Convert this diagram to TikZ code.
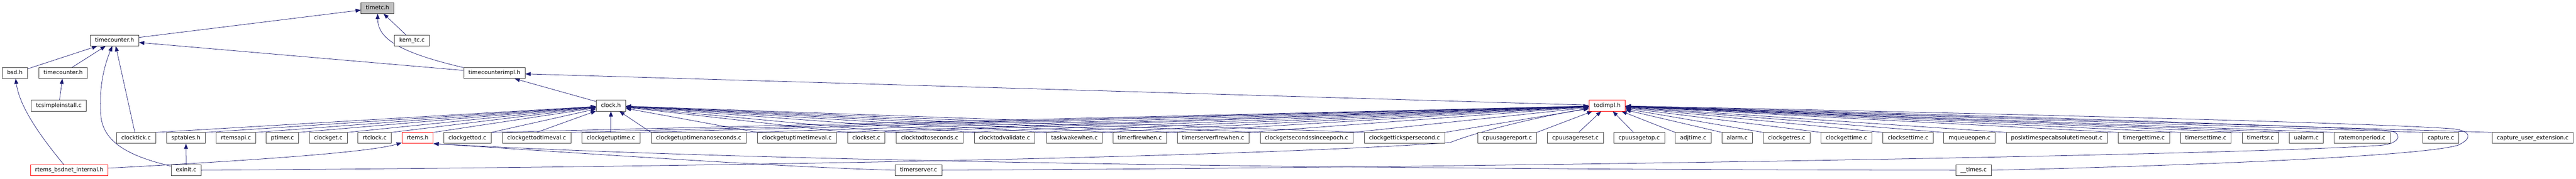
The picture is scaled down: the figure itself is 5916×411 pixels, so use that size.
\documentclass[tikz,border=0pt]{standalone}
\usepackage{fontspec}
\setmainfont{DejaVu Sans}
\usetikzlibrary{arrows.meta,backgrounds}
\definecolor{edgeblue}{HTML}{191970}
\definecolor{boxgrey}{HTML}{404040}

\begin{document}
\begin{tikzpicture}[x=1pt,y=-1pt,font=\fontsize{12.9}{15}\selectfont]
  \tikzstyle{filebox}=[rectangle,draw=boxgrey,line width=1pt,fill=white,minimum height=25pt,inner xsep=11pt,inner ysep=0pt,text height=9.5pt,text depth=2.7pt]
  \tikzstyle{rootbox}=[filebox,fill=black!25]
  \tikzstyle{truncbox}=[filebox,draw=red]
  \tikzstyle{incl}=[draw=edgeblue,line width=0.9pt,-{Triangle[length=12pt,width=9pt]}]
  \useasboundingbox (0,0) rectangle (5916,411);

  % headers
  \node[rootbox] (timetc) at (867,18.5) {timetc.h};
  \node[filebox] (tcscore) at (263,93) {timecounter.h};
  \node[filebox] (kerntc) at (946,93) {kern\_tc.c};
  \node[filebox] (bsd) at (34,168) {bsd.h};
  \node[filebox] (tcrtems) at (145,168) {timecounter.h};
  \node[filebox] (tcimpl) at (1135.5,168) {timecounterimpl.h};
  \node[filebox] (tcsimple) at (135,243) {tcsimpleinstall.c};
  \node[filebox] (clockh) at (1403,243) {clock.h};
  \node[truncbox] (todimpl) at (3691,243) {todimpl.h};

  % sources row
  \foreach \x/\n/\t in {312.5/clocktick/clocktick.c, 427/sptables/sptables.h,
      542/rtemsapi/rtemsapi.c, 648.5/ptimer/ptimer.c, 754/clockget/clockget.c,
      860.5/rtclock/rtclock.c, 1073.5/cgtod/clockgettod.c,
      1232.5/cgtodtv/clockgettodtimeval.c, 1403/cguptime/clockgetuptime.c,
      1604.5/cgupns/clockgetuptimenanoseconds.c, 1830/cguptv/clockgetuptimetimeval.c,
      1989.5/clockset/clockset.c, 2135/todtosec/clocktodtoseconds.c,
      2307/todvalid/clocktodvalidate.c, 2467.5/wakewhen/taskwakewhen.c,
      2617.5/firewhen/timerfirewhen.c, 2786/srvfirewhen/timerserverfirewhen.c,
      3000.5/cgsecs/clockgetsecondssinceepoch.c, 3225.5/cgticks/clockgettickspersecond.c,
      3461.5/cpureport/cpuusagereport.c, 3618/cpureset/cpuusagereset.c,
      3764.5/cputop/cpuusagetop.c, 3888.5/adjtime/adjtime.c, 3989.5/alarm/alarm.c,
      4103/cgres/clockgetres.c, 4240.5/cgtime/clockgettime.c, 4382/cstime/clocksettime.c,
      4523/mqopen/mqueueopen.c, 4723.5/abstimeout/posixtimespecabsolutetimeout.c,
      4923.5/tgettime/timergettime.c, 5065.5/tsettime/timersettime.c,
      5191/ttsr/timertsr.c, 5296.5/ualarm/ualarm.c, 5424.5/ratemon/ratemonperiod.c,
      5605.5/capture/capture.c, 5816.5/captureext/capture\_user\_extension.c}
    \node[filebox] (\n) at (\x,317.5) {\t};
  \node[truncbox] (rtemsh) at (959,317.5) {rtems.h};

  % bottom row
  \node[truncbox] (bsdnet) at (159,391.5) {rtems\_bsdnet\_internal.h};
  \node[filebox] (exinit) at (427.5,391.5) {exinit.c};
  \node[filebox] (timerserver) at (2109.5,391.5) {timerserver.c};
  \node[filebox] (times) at (4532.5,391.5) {\_\_times.c};

  \begin{scope}[on background layer]
    \draw[incl] (tcscore) -- (timetc);
    \draw[incl] (kerntc) -- (timetc);
    \draw[incl] (tcimpl.170) .. controls (905,118) and (868,85) .. (timetc);
    \draw[incl] (tcimpl) -- (tcscore);
    \draw[incl] (bsd) -- (tcscore);
    \draw[incl] (tcrtems) -- (tcscore);
    \draw[incl] (tcsimple) -- (tcrtems);
    \draw[incl] (clocktick) -- (tcscore);
    \draw[incl] (clockh) -- (tcimpl);
    \draw[incl] (todimpl) -- (tcimpl);
    \draw[incl] (exinit) -- (sptables);
    \draw[incl] (exinit.165) .. controls (300,360) and (240,330) .. (232,270)
      .. controls (226,200) and (240,150) .. (tcscore);
    \draw[incl] (bsdnet.134) .. controls (90,310) and (45,245) .. (bsd);
    \draw[incl] (bsdnet.3) .. controls (600,368) and (850,350) .. (rtemsh);

    % into clock.h
    \foreach \n in {clocktick,sptables,rtemsapi,ptimer,clockget,rtclock,rtemsh,cgtod}
      \draw[incl] (\n.north east) -- (clockh);
    \draw[incl] (cgtodtv.north) -- (clockh);
    \draw[incl] (cguptime) -- (clockh);
    \foreach \n in {cgupns,cguptv,clockset,todtosec,todvalid,wakewhen,firewhen,srvfirewhen,cgsecs,cgticks}
      \draw[incl] (\n.north west) -- (clockh);

    % into todimpl.h
    \foreach \n in {cgtod,cgtodtv,cguptime,cgupns,cguptv,clockset,todtosec,todvalid,wakewhen,firewhen,srvfirewhen,cgsecs,cgticks,cpureport}
      \draw[incl] (\n.north east) -- (todimpl);
    \draw[incl] (cpureset.60) -- (todimpl);
    \draw[incl] (cputop.135) -- (todimpl);
    \foreach \n in {adjtime,alarm,cgres,cgtime,cstime,mqopen,abstimeout,tgettime,tsettime,ttsr,ualarm,ratemon,capture,captureext}
      \draw[incl] (\n.north west) -- (todimpl);

    % long ones along the bottom
    \draw[incl] (exinit.east) .. controls (1500,385) and (2800,365) .. (3330,328)
      .. controls (3400,300) and (3550,265) .. (todimpl);
    \draw[incl] (timerserver.west) .. controls (1800,385) and (1300,350) .. (rtemsh.south east);
    \draw[incl] (times.west) .. controls (3000,390) and (1700,370) .. (rtemsh.south east);
    \draw[incl] (timerserver.east) .. controls (3500,385) and (5200,355) .. (5470,334)
      .. controls (5515,330) and (5520,302) .. (5480,300)
      .. controls (5200,285) and (4200,255) .. (todimpl);
    \draw[incl] (times.east) .. controls (5000,382) and (5560,360) .. (5645,334)
      .. controls (5680,318) and (5675,300) .. (5630,296)
      .. controls (5400,280) and (4300,255) .. (todimpl);
  \end{scope}
\end{tikzpicture}
\end{document}
